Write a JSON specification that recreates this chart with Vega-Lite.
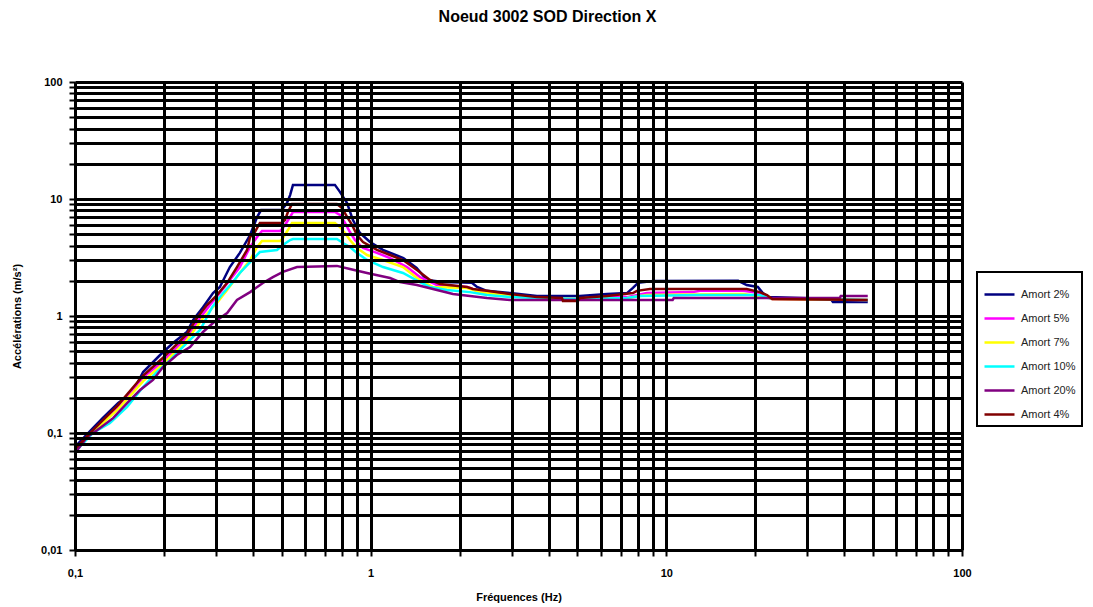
{
  "$schema": "https://vega.github.io/schema/vega-lite/v6.json",
  "width": 887,
  "height": 468,
  "autosize": "none",
  "padding": {"left": 75, "top": 82, "right": 131, "bottom": 57},
  "background": "white",
  "title": {"text": "Noeud 3002 SOD Direction X", "offset": 51, "dx": 29, "fontSize": 16, "font": "Liberation Sans", "fontWeight": "bold", "color": "black"},
  "config": {"view": {"stroke": null}, "font": "Liberation Sans", "legend": {"strokeWidth": 2}},
  "data": {"values": [
    {"s":"Amort 2%","f":0.1,"a":0.076},{"s":"Amort 2%","f":0.115,"a":0.11},{"s":"Amort 2%","f":0.124,"a":0.134},{"s":"Amort 2%","f":0.14,"a":0.181},{"s":"Amort 2%","f":0.156,"a":0.22},{"s":"Amort 2%","f":0.17,"a":0.332},{"s":"Amort 2%","f":0.194,"a":0.464},{"s":"Amort 2%","f":0.2145,"a":0.588},{"s":"Amort 2%","f":0.239,"a":0.73},{"s":"Amort 2%","f":0.251,"a":0.924},{"s":"Amort 2%","f":0.271,"a":1.19},{"s":"Amort 2%","f":0.293,"a":1.57},{"s":"Amort 2%","f":0.309,"a":1.77},{"s":"Amort 2%","f":0.334,"a":2.62},{"s":"Amort 2%","f":0.361,"a":3.46},{"s":"Amort 2%","f":0.391,"a":4.92},{"s":"Amort 2%","f":0.413,"a":7.02},{"s":"Amort 2%","f":0.426,"a":8.05},{"s":"Amort 2%","f":0.501,"a":8.1},{"s":"Amort 2%","f":0.521,"a":9.24},{"s":"Amort 2%","f":0.534,"a":10.8},{"s":"Amort 2%","f":0.546,"a":13.2},{"s":"Amort 2%","f":0.757,"a":13.2},{"s":"Amort 2%","f":0.787,"a":11.5},{"s":"Amort 2%","f":0.832,"a":9.24},{"s":"Amort 2%","f":0.871,"a":6.61},{"s":"Amort 2%","f":0.92,"a":5.12},{"s":"Amort 2%","f":0.995,"a":4.29},{"s":"Amort 2%","f":1.1,"a":3.67},{"s":"Amort 2%","f":1.29,"a":3.13},{"s":"Amort 2%","f":1.43,"a":2.57},{"s":"Amort 2%","f":1.55,"a":2.03},{"s":"Amort 2%","f":1.76,"a":1.95},{"s":"Amort 2%","f":2.2,"a":1.92},{"s":"Amort 2%","f":2.29,"a":1.77},{"s":"Amort 2%","f":2.47,"a":1.64},{"s":"Amort 2%","f":2.96,"a":1.57},{"s":"Amort 2%","f":3.65,"a":1.48},{"s":"Amort 2%","f":5.1,"a":1.48},{"s":"Amort 2%","f":6.3,"a":1.54},{"s":"Amort 2%","f":7.36,"a":1.57},{"s":"Amort 2%","f":7.71,"a":1.74},{"s":"Amort 2%","f":8.02,"a":1.92},{"s":"Amort 2%","f":9.01,"a":1.99},{"s":"Amort 2%","f":17.5,"a":2.0},{"s":"Amort 2%","f":18.7,"a":1.84},{"s":"Amort 2%","f":20.4,"a":1.77},{"s":"Amort 2%","f":21.2,"a":1.57},{"s":"Amort 2%","f":22.1,"a":1.45},{"s":"Amort 2%","f":36.0,"a":1.4},{"s":"Amort 2%","f":36.6,"a":1.32},{"s":"Amort 2%","f":48,"a":1.32},

    {"s":"Amort 5%","f":0.1,"a":0.0716},{"s":"Amort 5%","f":0.115,"a":0.104},{"s":"Amort 5%","f":0.14,"a":0.167},{"s":"Amort 5%","f":0.17,"a":0.3},{"s":"Amort 5%","f":0.1985,"a":0.41},{"s":"Amort 5%","f":0.239,"a":0.66},{"s":"Amort 5%","f":0.265,"a":0.961},{"s":"Amort 5%","f":0.286,"a":1.24},{"s":"Amort 5%","f":0.309,"a":1.57},{"s":"Amort 5%","f":0.334,"a":2.03},{"s":"Amort 5%","f":0.361,"a":2.62},{"s":"Amort 5%","f":0.391,"a":3.89},{"s":"Amort 5%","f":0.413,"a":4.73},{"s":"Amort 5%","f":0.429,"a":5.33},{"s":"Amort 5%","f":0.494,"a":5.33},{"s":"Amort 5%","f":0.505,"a":5.65},{"s":"Amort 5%","f":0.521,"a":6.36},{"s":"Amort 5%","f":0.534,"a":7.02},{"s":"Amort 5%","f":0.546,"a":7.74},{"s":"Amort 5%","f":0.757,"a":7.74},{"s":"Amort 5%","f":0.787,"a":7.3},{"s":"Amort 5%","f":0.819,"a":6.24},{"s":"Amort 5%","f":0.851,"a":5.22},{"s":"Amort 5%","f":0.885,"a":4.46},{"s":"Amort 5%","f":0.942,"a":3.81},{"s":"Amort 5%","f":1.05,"a":3.46},{"s":"Amort 5%","f":1.163,"a":3.13},{"s":"Amort 5%","f":1.327,"a":2.62},{"s":"Amort 5%","f":1.468,"a":2.15},{"s":"Amort 5%","f":1.676,"a":1.84},{"s":"Amort 5%","f":2.118,"a":1.77},{"s":"Amort 5%","f":2.167,"a":1.735},{"s":"Amort 5%","f":2.342,"a":1.6},{"s":"Amort 5%","f":2.959,"a":1.51},{"s":"Amort 5%","f":3.651,"a":1.425},{"s":"Amort 5%","f":5.1,"a":1.4},{"s":"Amort 5%","f":6.3,"a":1.45},{"s":"Amort 5%","f":7.36,"a":1.45},{"s":"Amort 5%","f":8.6,"a":1.57},{"s":"Amort 5%","f":12.3,"a":1.6},{"s":"Amort 5%","f":13.0,"a":1.64},{"s":"Amort 5%","f":18.2,"a":1.64},{"s":"Amort 5%","f":20.7,"a":1.57},{"s":"Amort 5%","f":21.9,"a":1.45},{"s":"Amort 5%","f":22.8,"a":1.4},{"s":"Amort 5%","f":48,"a":1.37},

    {"s":"Amort 7%","f":0.1,"a":0.0702},{"s":"Amort 7%","f":0.115,"a":0.102},{"s":"Amort 7%","f":0.14,"a":0.16},{"s":"Amort 7%","f":0.17,"a":0.278},{"s":"Amort 7%","f":0.1985,"a":0.39},{"s":"Amort 7%","f":0.239,"a":0.62},{"s":"Amort 7%","f":0.271,"a":0.961},{"s":"Amort 7%","f":0.302,"a":1.29},{"s":"Amort 7%","f":0.327,"a":1.67},{"s":"Amort 7%","f":0.361,"a":2.33},{"s":"Amort 7%","f":0.391,"a":3.01},{"s":"Amort 7%","f":0.413,"a":3.89},{"s":"Amort 7%","f":0.429,"a":4.375},{"s":"Amort 7%","f":0.494,"a":4.375},{"s":"Amort 7%","f":0.505,"a":4.64},{"s":"Amort 7%","f":0.525,"a":5.43},{"s":"Amort 7%","f":0.542,"a":6.24},{"s":"Amort 7%","f":0.757,"a":6.24},{"s":"Amort 7%","f":0.787,"a":5.76},{"s":"Amort 7%","f":0.819,"a":5.12},{"s":"Amort 7%","f":0.851,"a":4.46},{"s":"Amort 7%","f":0.899,"a":3.81},{"s":"Amort 7%","f":0.972,"a":3.32},{"s":"Amort 7%","f":1.101,"a":3.01},{"s":"Amort 7%","f":1.286,"a":2.62},{"s":"Amort 7%","f":1.434,"a":2.11},{"s":"Amort 7%","f":1.624,"a":1.77},{"s":"Amort 7%","f":2.118,"a":1.735},{"s":"Amort 7%","f":2.342,"a":1.6},{"s":"Amort 7%","f":2.959,"a":1.48},{"s":"Amort 7%","f":3.651,"a":1.425},{"s":"Amort 7%","f":5.1,"a":1.4},{"s":"Amort 7%","f":7.36,"a":1.425},{"s":"Amort 7%","f":8.6,"a":1.51},{"s":"Amort 7%","f":18.2,"a":1.54},{"s":"Amort 7%","f":21.9,"a":1.45},{"s":"Amort 7%","f":22.8,"a":1.4},{"s":"Amort 7%","f":48,"a":1.37},

    {"s":"Amort 10%","f":0.1,"a":0.0688},{"s":"Amort 10%","f":0.115,"a":0.1},{"s":"Amort 10%","f":0.1313,"a":0.122},{"s":"Amort 10%","f":0.15,"a":0.167},{"s":"Amort 10%","f":0.17,"a":0.247},{"s":"Amort 10%","f":0.189,"a":0.332},{"s":"Amort 10%","f":0.2096,"a":0.42},{"s":"Amort 10%","f":0.239,"a":0.588},{"s":"Amort 10%","f":0.265,"a":0.759},{"s":"Amort 10%","f":0.291,"a":1.19},{"s":"Amort 10%","f":0.317,"a":1.57},{"s":"Amort 10%","f":0.342,"a":1.95},{"s":"Amort 10%","f":0.361,"a":2.33},{"s":"Amort 10%","f":0.391,"a":2.89},{"s":"Amort 10%","f":0.422,"a":3.52},{"s":"Amort 10%","f":0.482,"a":3.67},{"s":"Amort 10%","f":0.505,"a":4.05},{"s":"Amort 10%","f":0.534,"a":4.46},{"s":"Amort 10%","f":0.546,"a":4.55},{"s":"Amort 10%","f":0.769,"a":4.55},{"s":"Amort 10%","f":0.806,"a":4.21},{"s":"Amort 10%","f":0.851,"a":3.89},{"s":"Amort 10%","f":0.899,"a":3.46},{"s":"Amort 10%","f":0.972,"a":3.01},{"s":"Amort 10%","f":1.101,"a":2.62},{"s":"Amort 10%","f":1.286,"a":2.33},{"s":"Amort 10%","f":1.468,"a":1.95},{"s":"Amort 10%","f":1.587,"a":1.77},{"s":"Amort 10%","f":1.811,"a":1.67},{"s":"Amort 10%","f":2.167,"a":1.6},{"s":"Amort 10%","f":2.474,"a":1.51},{"s":"Amort 10%","f":2.959,"a":1.45},{"s":"Amort 10%","f":3.651,"a":1.425},{"s":"Amort 10%","f":5.1,"a":1.4},{"s":"Amort 10%","f":7.36,"a":1.425},{"s":"Amort 10%","f":8.14,"a":1.48},{"s":"Amort 10%","f":12.7,"a":1.51},{"s":"Amort 10%","f":20.7,"a":1.51},{"s":"Amort 10%","f":22.1,"a":1.425},{"s":"Amort 10%","f":48,"a":1.37},

    {"s":"Amort 20%","f":0.1,"a":0.0675},{"s":"Amort 20%","f":0.11,"a":0.0924},{"s":"Amort 20%","f":0.119,"a":0.106},{"s":"Amort 20%","f":0.1345,"a":0.134},{"s":"Amort 20%","f":0.15,"a":0.18},{"s":"Amort 20%","f":0.166,"a":0.233},{"s":"Amort 20%","f":0.1836,"a":0.284},{"s":"Amort 20%","f":0.1985,"a":0.366},{"s":"Amort 20%","f":0.221,"a":0.464},{"s":"Amort 20%","f":0.245,"a":0.543},{"s":"Amort 20%","f":0.271,"a":0.73},{"s":"Amort 20%","f":0.293,"a":0.871},{"s":"Amort 20%","f":0.327,"a":1.06},{"s":"Amort 20%","f":0.353,"a":1.37},{"s":"Amort 20%","f":0.391,"a":1.6},{"s":"Amort 20%","f":0.432,"a":1.915},{"s":"Amort 20%","f":0.467,"a":2.15},{"s":"Amort 20%","f":0.505,"a":2.38},{"s":"Amort 20%","f":0.5635,"a":2.62},{"s":"Amort 20%","f":0.769,"a":2.68},{"s":"Amort 20%","f":0.851,"a":2.52},{"s":"Amort 20%","f":0.972,"a":2.33},{"s":"Amort 20%","f":1.163,"a":2.11},{"s":"Amort 20%","f":1.256,"a":1.95},{"s":"Amort 20%","f":1.434,"a":1.84},{"s":"Amort 20%","f":1.676,"a":1.67},{"s":"Amort 20%","f":1.898,"a":1.54},{"s":"Amort 20%","f":2.167,"a":1.48},{"s":"Amort 20%","f":2.474,"a":1.425},{"s":"Amort 20%","f":2.959,"a":1.37},{"s":"Amort 20%","f":10.5,"a":1.37},{"s":"Amort 20%","f":10.6,"a":1.425},{"s":"Amort 20%","f":38.6,"a":1.425},{"s":"Amort 20%","f":38.9,"a":1.48},{"s":"Amort 20%","f":48,"a":1.48},

    {"s":"Amort 4%","f":0.1,"a":0.073},{"s":"Amort 4%","f":0.115,"a":0.106},{"s":"Amort 4%","f":0.14,"a":0.174},{"s":"Amort 4%","f":0.17,"a":0.31},{"s":"Amort 4%","f":0.1985,"a":0.44},{"s":"Amort 4%","f":0.239,"a":0.7},{"s":"Amort 4%","f":0.2585,"a":0.961},{"s":"Amort 4%","f":0.2795,"a":1.24},{"s":"Amort 4%","f":0.302,"a":1.51},{"s":"Amort 4%","f":0.327,"a":1.92},{"s":"Amort 4%","f":0.353,"a":2.62},{"s":"Amort 4%","f":0.382,"a":3.67},{"s":"Amort 4%","f":0.391,"a":4.73},{"s":"Amort 4%","f":0.406,"a":5.22},{"s":"Amort 4%","f":0.422,"a":6.24},{"s":"Amort 4%","f":0.501,"a":6.24},{"s":"Amort 4%","f":0.513,"a":6.61},{"s":"Amort 4%","f":0.525,"a":7.74},{"s":"Amort 4%","f":0.542,"a":9.06},{"s":"Amort 4%","f":0.769,"a":9.06},{"s":"Amort 4%","f":0.8,"a":8.38},{"s":"Amort 4%","f":0.832,"a":7.02},{"s":"Amort 4%","f":0.865,"a":6.0},{"s":"Amort 4%","f":0.899,"a":4.92},{"s":"Amort 4%","f":0.942,"a":4.29},{"s":"Amort 4%","f":1.05,"a":3.67},{"s":"Amort 4%","f":1.163,"a":3.32},{"s":"Amort 4%","f":1.286,"a":3.01},{"s":"Amort 4%","f":1.434,"a":2.47},{"s":"Amort 4%","f":1.587,"a":2.03},{"s":"Amort 4%","f":1.715,"a":1.88},{"s":"Amort 4%","f":2.118,"a":1.77},{"s":"Amort 4%","f":2.218,"a":1.7},{"s":"Amort 4%","f":2.474,"a":1.64},{"s":"Amort 4%","f":2.959,"a":1.54},{"s":"Amort 4%","f":3.651,"a":1.45},{"s":"Amort 4%","f":4.436,"a":1.425},{"s":"Amort 4%","f":4.471,"a":1.345},{"s":"Amort 4%","f":5.02,"a":1.345},{"s":"Amort 4%","f":5.1,"a":1.425},{"s":"Amort 4%","f":6.3,"a":1.48},{"s":"Amort 4%","f":7.71,"a":1.57},{"s":"Amort 4%","f":7.95,"a":1.64},{"s":"Amort 4%","f":8.8,"a":1.7},{"s":"Amort 4%","f":18.7,"a":1.7},{"s":"Amort 4%","f":20.7,"a":1.6},{"s":"Amort 4%","f":21.9,"a":1.51},{"s":"Amort 4%","f":22.8,"a":1.4},{"s":"Amort 4%","f":48,"a":1.37}
  ]},
  "mark": {"type": "line", "strokeWidth": 2.5, "interpolate": "linear"},
  "encoding": {
    "x": {
      "field": "f", "type": "quantitative",
      "scale": {"type": "log", "domain": [0.1, 100], "nice": false},
      "axis": {
        "zindex": 1,
        "title": "Fréquences (Hz)",
        "values": [0.1,0.2,0.3,0.4,0.5,0.6,0.7,0.8,0.9,1,2,3,4,5,6,7,8,9,10,20,30,40,50,60,70,80,90,100],
        "labelExpr": "datum.value == 0.1 ? '0,1' : datum.value == 1 ? '1' : datum.value == 10 ? '10' : datum.value == 100 ? '100' : ''",
        "labelFont": "Liberation Sans", "labelFontSize": 11, "labelFontWeight": "bold", "labelColor": "black",
        "labelPadding": 11, "labelOverlap": false, "labelFlush": false,
        "titleFont": "Liberation Sans", "titleFontSize": 11, "titleFontWeight": "bold", "titleColor": "black", "titlePadding": 13,
        "grid": true, "gridColor": "black", "gridWidth": 3, "gridOpacity": 1,
        "domainColor": "black", "domainWidth": 3,
        "tickColor": "black", "tickWidth": 2, "tickSize": 6
      }
    },
    "y": {
      "field": "a", "type": "quantitative",
      "scale": {"type": "log", "domain": [0.01, 100], "nice": false},
      "axis": {
        "zindex": 1,
        "title": "Accélérations (m/s²)",
        "values": [0.01,0.02,0.03,0.04,0.05,0.06,0.07,0.08,0.09,0.1,0.2,0.3,0.4,0.5,0.6,0.7,0.8,0.9,1,2,3,4,5,6,7,8,9,10,20,30,40,50,60,70,80,90,100],
        "labelExpr": "datum.value == 0.01 ? '0,01' : datum.value == 0.1 ? '0,1' : datum.value == 1 ? '1' : datum.value == 10 ? '10' : datum.value == 100 ? '100' : ''",
        "labelFont": "Liberation Sans", "labelFontSize": 11, "labelFontWeight": "bold", "labelColor": "black",
        "labelPadding": 7, "labelOverlap": false, "labelFlush": false,
        "titleFont": "Liberation Sans", "titleFontSize": 11, "titleFontWeight": "bold", "titleColor": "black", "titlePadding": 18,
        "grid": true, "gridColor": "black", "gridWidth": 3, "gridOpacity": 1,
        "domainColor": "black", "domainWidth": 3,
        "tickColor": "black", "tickWidth": 2, "tickSize": 6
      }
    },
    "color": {
      "field": "s", "type": "nominal",
      "scale": {
        "domain": ["Amort 2%", "Amort 5%", "Amort 7%", "Amort 10%", "Amort 20%", "Amort 4%"],
        "range": ["#000080", "#FF00FF", "#FFFF00", "#00FFFF", "#800080", "#800000"]
      },
      "legend": {
        "title": null,
        "orient": "none",
        "legendX": 902,
        "legendY": 190,
        "padding": 6,
        "strokeColor": "black",
        "fillColor": "white",
        "symbolType": "stroke",
        "symbolSize": 900,
        "symbolStrokeWidth": 2.5,
        "rowPadding": 2,
        "labelOffset": 5,
        "labelFont": "Liberation Sans",
        "labelFontSize": 11,
        "labelColor": "#222222",
        "labelLimit": 200
      }
    }
  }
}
